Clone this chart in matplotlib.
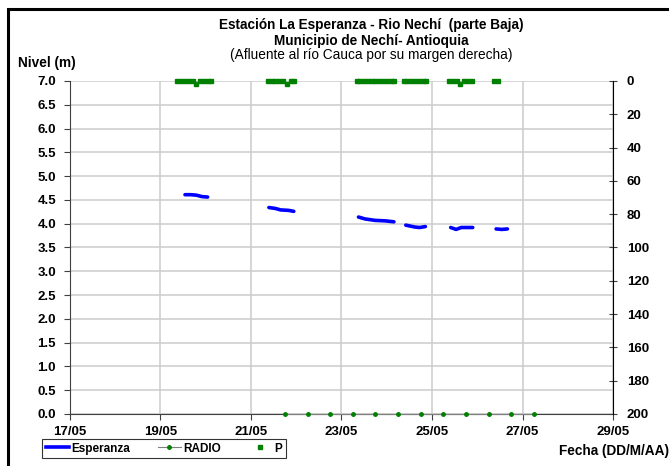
import numpy as np
import matplotlib
matplotlib.use('Agg')
import matplotlib.pyplot as plt
from matplotlib.patches import Rectangle
from matplotlib.lines import Line2D

plt.rcParams['font.family'] = ['Liberation Sans', 'DejaVu Sans']
plt.rcParams['font.weight'] = 'bold'

# Time axis: hours since 17/05 00:00
tick_hours = [0, 48, 96, 144, 192, 240, 288]
tick_labels = ['17/05', '19/05', '21/05', '23/05', '25/05', '27/05', '29/05']

# Nivel (m) - Esperanza (NaN separates gaps)
esp_hours = [61, 64, 67, 70, 73, np.nan,
             105.5, 109, 111.7, 116, 118.7, np.nan,
             153, 156.5, 161.8, 167.1, 171.8, np.nan,
             178.1, 182.9, 185.5, 188.5, np.nan,
             201.9, 204.8, 207.5, 213.6, np.nan,
             226, 229, 232]
esp_level = [4.61, 4.61, 4.60, 4.57, 4.56, np.nan,
             4.34, 4.32, 4.29, 4.28, 4.26, np.nan,
             4.14, 4.10, 4.07, 4.06, 4.04, np.nan,
             3.97, 3.93, 3.92, 3.94, np.nan,
             3.92, 3.88, 3.92, 3.92, np.nan,
             3.89, 3.88, 3.89]

# RADIO reports
radio_hours = [114, 126, 138, 150, 162, 174, 186, 198, 210, 222, 234, 246]
radio_level = [0, 0, 0, 0, 0, 0, 0, 0, 0, 0, 0, 0]

# Precipitacion P (mm), right axis
p_hours = [57, 59, 61, 63, 65, 67, 69, 71, 73, 75,
           105, 107, 109, 111, 113, 115, 117, 119,
           152, 154, 156, 158, 160, 162, 164, 166, 168, 170, 172,
           177, 179, 181, 183, 185, 187, 189,
           201, 203, 205, 207, 209, 211, 213,
           225, 227]
p_mm = [0, 0, 0, 0, 0, 2, 0, 0, 0, 0,
        0, 0, 0, 0, 0, 2, 0, 0,
        0, 0, 0, 0, 0, 0, 0, 0, 0, 0, 0,
        0, 0, 0, 0, 0, 0, 0,
        0, 0, 0, 2, 0, 0, 0,
        0, 0]

fig = plt.figure(figsize=(6.69, 4.66), dpi=100)
ax = fig.add_axes([0.1046, 0.1116, 0.8117, 0.7146])

ax.plot(esp_hours, esp_level, color='#0000ff', lw=2.6, solid_capstyle='round')
ax.plot(radio_hours, radio_level, color='#808080', lw=0.8, marker='o',
        ms=2.5, mfc='#008000', mec='#008000', clip_on=False, zorder=5)

ax.set_xlim(0, 288)
ax.set_ylim(0, 7)
ax.set_xticks(tick_hours)
ax.set_xticklabels(tick_labels)
ax.set_yticks(np.arange(0, 7.01, 0.5))
ax.set_yticklabels(['%.1f' % v for v in np.arange(0, 7.01, 0.5)])
ax.grid(True, color='#cccccc', lw=1.1)
ax.set_axisbelow(True)
ax.spines['top'].set_visible(False)
ax.spines['right'].set_visible(False)
ax.spines['left'].set_color('#404040')
ax.spines['bottom'].set_color('#404040')
ax.tick_params(axis='both', labelsize=9.5, length=4, color='#404040')
ax.tick_params(axis='y', pad=6)
ax.tick_params(axis='x', pad=5)
for lbl in ax.get_xticklabels() + ax.get_yticklabels():
    lbl.set_fontweight('bold')

ax2 = ax.twinx()
ax2.plot(p_hours, p_mm, ls='none', marker='s', ms=2.4, color='#008000',
         clip_on=False)
ax2.set_ylim(200, 0)
ax2.set_yticks(np.arange(0, 201, 20))
ax2.spines['top'].set_visible(False)
ax2.spines['left'].set_visible(False)
ax2.spines['bottom'].set_visible(False)
ax2.spines['right'].set_color('black')
ax2.tick_params(axis='y', labelsize=9.5, length=6, direction='inout',
                color='#404040', pad=7)
for lbl in ax2.get_yticklabels():
    lbl.set_fontweight('bold')

# Titles
fig.text(0.555, 0.946, 'Estación La Esperanza - Rio Nechí  (parte Baja)',
         ha='center', va='center', fontsize=9.8, fontweight='bold')
fig.text(0.555, 0.912, 'Municipio de Nechí- Antioquia',
         ha='center', va='center', fontsize=9.8, fontweight='bold')
fig.text(0.555, 0.882, '(Afluente al río Cauca por su margen derecha)',
         ha='center', va='center', fontsize=9.8, fontweight='normal')
fig.text(0.027, 0.865, 'Nivel (m)', ha='left', va='center', fontsize=9.8,
         fontweight='bold')
fig.text(0.836, 0.032, 'Fecha (DD/M/AA)', ha='left', va='center',
         fontsize=9.8, fontweight='bold')

# Legend
handles = [Line2D([], [], color='#0000ff', lw=2.6),
           Line2D([], [], color='#808080', lw=0.8, marker='o', ms=2.5,
                  mfc='#008000', mec='#008000'),
           Line2D([], [], ls='none', marker='s', ms=2.4, color='#008000')]
leg = fig.legend(handles, ['Esperanza', 'RADIO', 'P'], ncol=3,
                 loc='lower left', bbox_to_anchor=(0.063, 0.017),
                 frameon=True, fancybox=False, edgecolor='black',
                 fontsize=8.5, handlelength=2.0, handletextpad=0.2,
                 columnspacing=2.3, borderpad=0.3, borderaxespad=0)
leg.get_frame().set_linewidth(0.8)
for t in leg.get_texts():
    t.set_fontweight('bold')

# Outer frame
fig.patches.append(Rectangle((0.012, -0.1), 1.2, 1.081, transform=fig.transFigure,
                             fill=False, edgecolor='black', lw=2.2))

fig.savefig('out.png', dpi=100)
